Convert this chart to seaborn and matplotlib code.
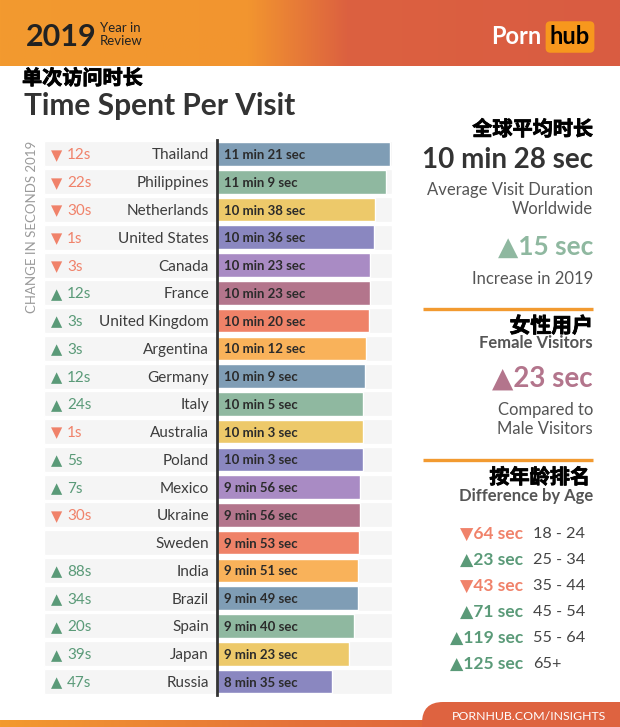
import matplotlib
matplotlib.use('Agg')
import matplotlib.pyplot as plt
import matplotlib.transforms as mtransforms
import matplotlib.patheffects as pe
from matplotlib.colors import LinearSegmentedColormap
from matplotlib.patches import FancyBboxPatch
import numpy as np
import pandas as pd
import seaborn as sns

# data
countries = ["Thailand", "Philippines", "Netherlands", "United States", "Canada",
             "France", "United Kingdom", "Argentina", "Germany", "Italy",
             "Australia", "Poland", "Mexico", "Ukraine", "Sweden", "India",
             "Brazil", "Spain", "Japan", "Russia"]
visit_sec = [681, 669, 638, 636, 623, 623, 620, 612, 609, 605,
             603, 603, 596, 596, 593, 591, 589, 580, 563, 515]
change_sec = [-12, -22, -30, -1, -3, 12, 3, 3, 12, 24,
              -1, 5, 7, -30, None, 88, 34, 20, 39, 47]
age_groups = ["18 - 24", "25 - 34", "35 - 44", "45 - 54", "55 - 64", "65+"]
age_diff = [-64, 23, -43, 71, 119, 125]
avg_visit = 628
avg_change = 15
female_diff = 23

palette8 = ['#7f9db5', '#8fb8a0', '#edc96a', '#8a87c0',
            '#a98bc4', '#b3758c', '#ef8268', '#f9b25a']
bar_colors = [palette8[i % 8] for i in range(len(countries))]
UP = '#5a9a78'
DOWN = '#f0826a'
GREY = '#555555'
CJK = ['Noto Sans CJK SC', 'DejaVu Sans']
# fake heavier weight for the CJK headings
THICK = [pe.withStroke(linewidth=0.6, foreground='black')]

sns.set_theme(style='white')
plt.rcParams['font.family'] = ['Lato', 'DejaVu Sans']

W, H = 620, 727
fig = plt.figure(figsize=(6.2, 7.27), dpi=100)

# full-figure canvas in pixel coords
canvas = fig.add_axes([0, 0, 1, 1])
grad = np.linspace(0, 1, 256).reshape(1, -1)
hdr_cmap = LinearSegmentedColormap.from_list(
    'hdr', [(0, '#f39a2f'), (0.40, '#f2952f'), (0.56, '#dc6140'), (1, '#d95c42')])
canvas.imshow(grad, cmap=hdr_cmap, extent=[0, W, 66, 0], aspect='auto')
foot_cmap = LinearSegmentedColormap.from_list('ftr', ['#f39a2f', '#e4703a', '#d95c42'])
canvas.imshow(grad, cmap=foot_cmap, extent=[0, W, H, 720], aspect='auto')
canvas.add_patch(FancyBboxPatch((422, 702), 260, 60,
                                boxstyle='round,pad=0,rounding_size=21',
                                fc='#de6340', ec='none'))
canvas.set_xlim(0, W)
canvas.set_ylim(H, 0)
canvas.axis('off')

# header
canvas.text(26, 34, '2019', fontsize=22, weight='bold', color='#222222',
            va='center_baseline')
canvas.text(100, 27, 'Year in', fontsize=9.5, color='#222222', va='center_baseline')
canvas.text(100, 40, 'Review', fontsize=9.5, color='#222222', va='center_baseline')
canvas.text(541, 35, 'Porn', fontsize=17, weight='bold', color='white',
            ha='right', va='center_baseline')
canvas.text(570, 35, 'hub', fontsize=17, weight='bold', color='black',
            ha='center', va='center_baseline',
            bbox=dict(boxstyle='round,pad=0.18,rounding_size=0.2', fc='#f7971d', ec='none'))
canvas.text(22, 78, '单次访问时长', fontsize=14.5, weight='bold', color='black',
            family=CJK, va='center', path_effects=THICK)
canvas.text(24, 103, 'Time Spent Per Visit', fontsize=21.5, weight='bold',
            color='#333333', va='center_baseline')

# vertical side label
canvas.text(32, 227, 'CHANGE IN SECONDS 2019', rotation=90, fontsize=9.5,
            color='#9a9a9a', ha='center', va='center')

# background row bands
top_px, bot_px = 140.1, 695.4
ax_b = 1 - bot_px / H
ax_h = (bot_px - top_px) / H
bg = fig.add_axes([44 / W, ax_b, 348 / W, ax_h])
bg.barh(np.arange(len(countries)), 1, height=0.9, color='#f5f5f5')
bg.set_xlim(0, 1)
bg.set_ylim(len(countries) - 0.5, -0.5)
bg.axis('off')

# bars
ax = fig.add_axes([217 / W, ax_b, 175 / W, ax_h])
df = pd.DataFrame({'country': countries, 'seconds': visit_sec})
sns.barplot(data=df, x='seconds', y='country', hue='country', order=countries,
            hue_order=countries, palette=bar_colors, legend=False,
            width=0.85, saturation=1, ax=ax)
ax.set_xlim(188, 687)
ax.set_ylim(len(countries) - 0.5, -0.5)
ax.set_facecolor('none')
ax.set_xticks([])
ax.set_yticks([])
ax.set_xlabel('')
ax.set_ylabel('')
for side in ['top', 'right', 'bottom']:
    ax.spines[side].set_visible(False)
ax.spines['left'].set_color('#333333')
ax.spines['left'].set_linewidth(2)

trans = mtransforms.blended_transform_factory(canvas.transData, ax.transData)
for i, (c, s, d) in enumerate(zip(countries, visit_sec, change_sec)):
    ax.text(209, i, c, transform=trans, ha='right', va='center_baseline',
            fontsize=11, color='#3d3d3d')
    ax.text(224, i, f'{s // 60} min {s % 60} sec', transform=trans,
            ha='left', va='center_baseline', fontsize=9.5, weight='bold', color='#2b2b2b')
    if d is not None:
        col = UP if d > 0 else DOWN
        ax.text(57, i, '▲' if d > 0 else '▼', transform=trans, ha='center',
                va='center_baseline', fontsize=10.5, color=col, family='DejaVu Sans')
        ax.text(67, i, f'{abs(d)}s', transform=trans, ha='left',
                va='center_baseline', fontsize=11, color=col)

# right panel
R = 593
canvas.text(R, 129, '全球平均时长', fontsize=14.5, weight='bold', color='black',
            family=CJK, ha='right', va='center', path_effects=THICK)
canvas.text(R, 157, f'{avg_visit // 60} min {avg_visit % 60} sec', fontsize=20,
            weight='bold', color='#333333', ha='right', va='center_baseline')
canvas.text(R, 188, 'Average Visit Duration', fontsize=12, color=GREY,
            ha='right', va='center_baseline')
canvas.text(R, 208, 'Worldwide', fontsize=12, color=GREY, ha='right', va='center_baseline')
canvas.text(R, 245, f'▲{avg_change} sec', fontsize=19, weight='bold', color='#8fb8a0',
            ha='right', va='center_baseline')
canvas.text(R, 278, 'Increase in 2019', fontsize=12, color=GREY, ha='right',
            va='center_baseline')
canvas.plot([423, R], [309, 309], color='#f29a30', lw=2.4, solid_capstyle='butt')
canvas.text(R, 326, '女性用户', fontsize=15, weight='bold', color='black',
            family=CJK, ha='right', va='center', path_effects=THICK)
canvas.text(R, 342, 'Female Visitors', fontsize=12, weight='bold', color=GREY,
            ha='right', va='center_baseline')
canvas.text(R, 376, f'▲{female_diff} sec', fontsize=20, weight='bold', color='#b3758c',
            ha='right', va='center_baseline')
canvas.text(R, 408, 'Compared to', fontsize=12, color=GREY, ha='right', va='center_baseline')
canvas.text(R, 428, 'Male Visitors', fontsize=12, color=GREY, ha='right',
            va='center_baseline')
canvas.plot([423, R], [460, 460], color='#f29a30', lw=2.4, solid_capstyle='butt')
canvas.text(590, 477, '按年龄排名', fontsize=14.5, weight='bold', color='black',
            family=CJK, ha='right', va='center', path_effects=THICK)
canvas.text(R, 495, 'Difference by Age', fontsize=12, weight='bold', color=GREY,
            ha='right', va='center_baseline')
for i, (g, d) in enumerate(zip(age_groups, age_diff)):
    y = 532 + 26 * i
    col = UP if d > 0 else DOWN
    canvas.text(523, y, f'{"▲" if d > 0 else "▼"}{abs(d)} sec', fontsize=12.5,
                weight='bold', color=col, ha='right', va='center_baseline')
    canvas.text(533, y, g, fontsize=11.7, color='#444444', ha='left', va='center_baseline')

# footer
canvas.text(606, 715, 'PORNHUB.COM/INSIGHTS', fontsize=8.9, color='white',
            ha='right', va='center_baseline')

fig.savefig('out.png', dpi=100)
